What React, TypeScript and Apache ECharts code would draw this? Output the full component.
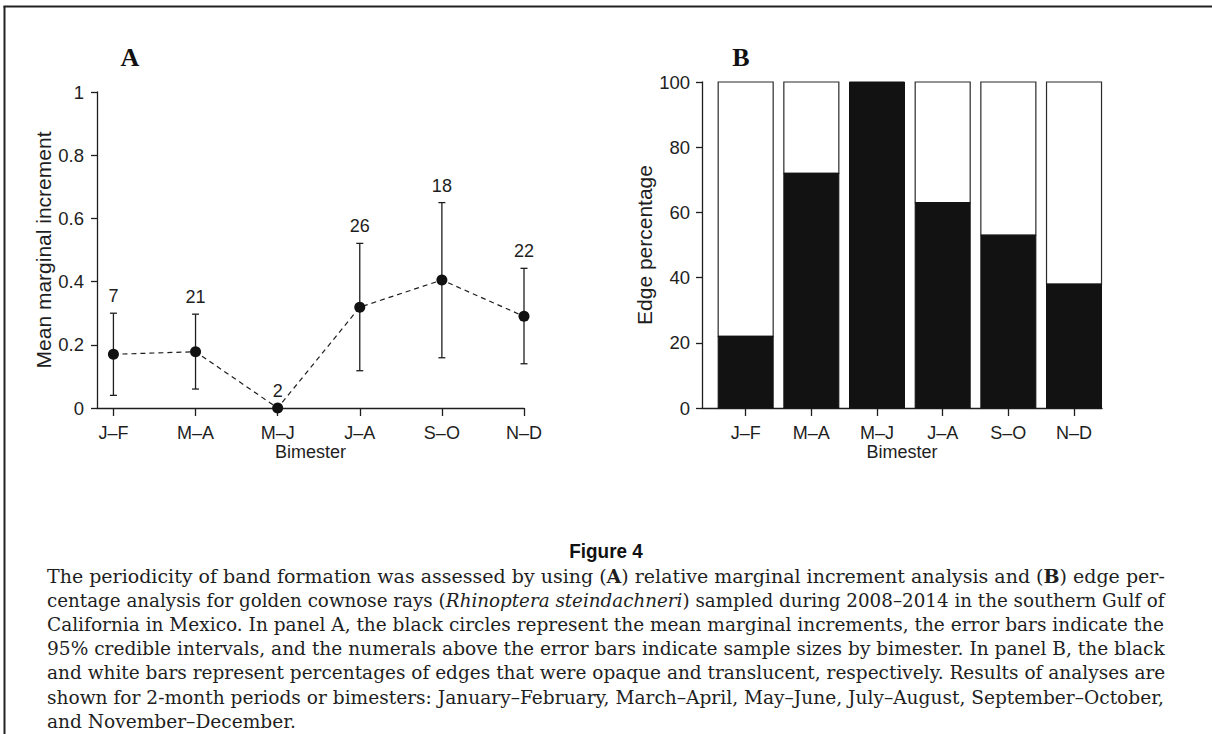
import React, { useEffect, useRef } from "react";
import * as echarts from "echarts";

// Bimester categories (two-month periods)
const bimesters = ["J–F", "M–A", "M–J", "J–A", "S–O", "N–D"];

// Panel A: mean marginal increment with 95% credible intervals and sample sizes
const meanIncrement = [0.17, 0.178, 0.0, 0.319, 0.405, 0.29];
const ciLower = [0.04, 0.06, 0.0, 0.118, 0.159, 0.14];
const ciUpper = [0.3, 0.297, 0.0, 0.521, 0.65, 0.442];
const sampleSizes = [7, 21, 2, 26, 18, 22];

// Panel B: percentage of opaque (black) and translucent (white) edges
const opaqueEdgePct = [22, 72, 100, 63, 53, 38];
const translucentEdgePct = [78, 28, 0, 37, 47, 62];

// Axis ticks
const incrementTicks = [0, 0.2, 0.4, 0.6, 0.8, 1];
const percentTicks = [0, 20, 40, 60, 80, 100];

const figureTitle = "Figure 4";
const captionLines = [
  "The periodicity of band formation was assessed by using ({b|A}) relative marginal increment analysis and ({b|B}) edge per-",
  "centage analysis for golden cownose rays ({i|Rhinoptera steindachneri}) sampled during 2008–2014 in the southern Gulf of",
  "California in Mexico. In panel A, the black circles represent the mean marginal increments, the error bars indicate the",
  "95% credible intervals, and the numerals above the error bars indicate sample sizes by bimester. In panel B, the black",
  "and white bars represent percentages of edges that were opaque and translucent, respectively. Results of analyses are",
  "shown for 2-month periods or bimesters: January–February, March–April, May–June, July–August, September–October,",
  "and November–December.",
];

const SANS = "'Liberation Sans', Arial, Helvetica, sans-serif";
const SERIF = "'DejaVu Serif', 'Liberation Serif', serif";
const INK = "#1e1e1e";

const CAPTION_SIZE = 19;
const CAPTION_LEFT = 47;
const CAPTION_RIGHT = 1165;
const CAPTION_TOP = 576;
const CAPTION_STEP = 24.2;

const BAR_WIDTH = 55;

// Width of a caption line with {b|..} / {i|..} rich segments
function measureRich(line: string): number {
  const ctx = document.createElement("canvas").getContext("2d")!;
  const re = /\{(\w)\|([^}]*)\}/g;
  let total = 0;
  let last = 0;
  let m: RegExpExecArray | null;
  const plain = (s: string) => {
    ctx.font = `${CAPTION_SIZE}px ${SERIF}`;
    total += ctx.measureText(s).width;
  };
  while ((m = re.exec(line))) {
    if (m.index > last) plain(line.slice(last, m.index));
    ctx.font = `${m[1] === "b" ? "bold" : "italic"} ${CAPTION_SIZE}px ${SERIF}`;
    total += ctx.measureText(m[2]).width;
    last = re.lastIndex;
  }
  if (last < line.length) plain(line.slice(last));
  return total;
}

// Justified caption: each full line is fitted to the column width
function buildCaption(): any[] {
  const target = CAPTION_RIGHT - CAPTION_LEFT;
  const scales = captionLines.map((l) => target / measureRich(l));
  const justified = scales.slice(0, -1);
  const avg = justified.reduce((a, b) => a + b, 0) / justified.length;
  return captionLines.map((line, i) => ({
    type: "text",
    x: CAPTION_LEFT,
    y: CAPTION_TOP + i * CAPTION_STEP,
    scaleX: i === captionLines.length - 1 ? avg : scales[i],
    style: {
      text: line,
      fill: INK,
      fontFamily: SERIF,
      fontSize: CAPTION_SIZE,
      textAlign: "left",
      textVerticalAlign: "middle",
      rich: {
        b: { fontFamily: SERIF, fontSize: CAPTION_SIZE, fontWeight: "bold", fill: INK },
        i: { fontFamily: SERIF, fontSize: CAPTION_SIZE, fontStyle: "italic", fill: INK },
      },
    },
  }));
}

const positions = bimesters.map((_, i) => i + 1);
const catLabel = (v: number) => bimesters[Math.round(v) - 1] ?? "";

export default function App() {
  const ref = useRef<HTMLDivElement>(null);

  useEffect(() => {
    if (!ref.current) return;
    const chart = echarts.init(ref.current, null, { renderer: "svg" });

    const axisLine = { show: true, lineStyle: { color: INK, width: 1.3 } };
    const tickLabel = { color: INK, fontFamily: SANS, fontSize: 18 };
    const xName = {
      name: "Bimester",
      nameLocation: "middle",
      nameGap: 32,
      nameTextStyle: { color: INK, fontFamily: SANS, fontSize: 18 },
    };
    const xTicks = {
      axisTick: { show: true, length: 8, customValues: positions, lineStyle: { color: INK, width: 1.3 } },
      axisLabel: { ...tickLabel, margin: 16, customValues: positions, formatter: catLabel },
    };

    const option: any = {
      animation: false,
      backgroundColor: "#ffffff",
      grid: [
        { left: 97, top: 92, width: 427, height: 316, outerBoundsMode: "none" },
        { left: 702, top: 82, width: 400, height: 326, outerBoundsMode: "none" },
      ],
      xAxis: [
        {
          gridIndex: 0,
          type: "value",
          min: 0.8,
          max: 6,
          splitLine: { show: false },
          axisLine,
          ...xTicks,
          ...xName,
        },
        {
          gridIndex: 1,
          type: "value",
          min: 0.335,
          max: 6.426,
          splitLine: { show: false },
          axisLine,
          ...xTicks,
          ...xName,
        },
      ],
      yAxis: [
        {
          gridIndex: 0,
          type: "value",
          min: incrementTicks[0],
          max: incrementTicks[incrementTicks.length - 1],
          interval: incrementTicks[1] - incrementTicks[0],
          splitLine: { show: false },
          axisLine,
          axisTick: { show: true, length: 6, lineStyle: { color: INK, width: 1.3 } },
          axisLabel: { ...tickLabel, fontSize: 18.5, margin: 13 },
          name: "Mean marginal increment",
          nameLocation: "middle",
          nameGap: 43,
          nameTextStyle: { color: INK, fontFamily: SANS, fontSize: 21 },
        },
        {
          gridIndex: 1,
          type: "value",
          min: percentTicks[0],
          max: percentTicks[percentTicks.length - 1],
          interval: percentTicks[1] - percentTicks[0],
          splitLine: { show: false },
          axisLine,
          axisTick: { show: true, length: 6, lineStyle: { color: INK, width: 1.3 } },
          axisLabel: { ...tickLabel, fontSize: 18.5, margin: 12 },
          name: "Edge percentage",
          nameLocation: "middle",
          nameGap: 46,
          nameTextStyle: { color: INK, fontFamily: SANS, fontSize: 21 },
        },
      ],
      series: [
        {
          // credible-interval whiskers with sample-size numerals above them
          type: "custom",
          xAxisIndex: 0,
          yAxisIndex: 0,
          z: 2,
          encode: { x: 0, y: [1, 2] },
          data: bimesters.map((_, i) => [positions[i], ciLower[i], ciUpper[i], sampleSizes[i]]),
          renderItem: (params: any, api: any) => {
            const x = api.value(0);
            const lo = api.coord([x, api.value(1)]);
            const hi = api.coord([x, api.value(2)]);
            const cap = 3.5;
            const ls = { stroke: INK, lineWidth: 1.3 };
            return {
              type: "group",
              children: [
                { type: "line", shape: { x1: lo[0], y1: lo[1], x2: hi[0], y2: hi[1] }, style: ls },
                { type: "line", shape: { x1: hi[0] - cap, y1: hi[1], x2: hi[0] + cap, y2: hi[1] }, style: ls },
                { type: "line", shape: { x1: lo[0] - cap, y1: lo[1], x2: lo[0] + cap, y2: lo[1] }, style: ls },
                {
                  type: "text",
                  x: hi[0],
                  y: hi[1] - 17,
                  style: {
                    text: String(api.value(3)),
                    fill: INK,
                    fontFamily: SANS,
                    fontSize: 18,
                    textAlign: "center",
                    textVerticalAlign: "middle",
                  },
                },
              ],
            };
          },
        },
        {
          type: "line",
          xAxisIndex: 0,
          yAxisIndex: 0,
          z: 3,
          data: meanIncrement.map((v, i) => [positions[i], v]),
          symbol: "circle",
          symbolSize: 11,
          showAllSymbol: true,
          itemStyle: { color: "#111" },
          lineStyle: { color: INK, width: 1.2, type: [5, 4] },
        },
        {
          // stacked opaque (black) / translucent (white) edge bars
          type: "custom",
          xAxisIndex: 1,
          yAxisIndex: 1,
          encode: { x: 0, y: [1, 2] },
          data: bimesters.map((_, i) => [positions[i], opaqueEdgePct[i], opaqueEdgePct[i] + translucentEdgePct[i]]),
          renderItem: (params: any, api: any) => {
            const x = api.value(0);
            const base = api.coord([x, 0]);
            const mid = api.coord([x, api.value(1)]);
            const top = api.coord([x, api.value(2)]);
            const left = base[0] - BAR_WIDTH / 2;
            const children: any[] = [];
            if (top[1] < mid[1] - 0.5) {
              children.push({
                type: "rect",
                shape: { x: left, y: top[1], width: BAR_WIDTH, height: mid[1] - top[1] },
                style: { fill: "#ffffff", stroke: "#2a2a2a", lineWidth: 1.2 },
              });
            }
            children.push({
              type: "rect",
              shape: { x: left, y: mid[1], width: BAR_WIDTH, height: base[1] - mid[1] },
              style: { fill: "#121212", stroke: "#121212", lineWidth: 1 },
            });
            return { type: "group", children };
          },
        },
      ],
      graphic: [
        // page frame (top and left rules)
        { type: "line", shape: { x1: 3.5, y1: 6.5, x2: 1212, y2: 6.5 }, style: { stroke: "#222", lineWidth: 2 } },
        { type: "line", shape: { x1: 4.5, y1: 6, x2: 4.5, y2: 734 }, style: { stroke: "#222", lineWidth: 2 } },
        {
          type: "text",
          x: 130,
          y: 57,
          style: { text: "A", fill: "#111", fontFamily: "'Liberation Serif', serif", fontWeight: "bold", fontSize: 26, textAlign: "center", textVerticalAlign: "middle" },
        },
        {
          type: "text",
          x: 741,
          y: 57,
          style: { text: "B", fill: "#111", fontFamily: "'Liberation Serif', serif", fontWeight: "bold", fontSize: 26, textAlign: "center", textVerticalAlign: "middle" },
        },
        {
          type: "text",
          x: 606,
          y: 551,
          scaleX: 0.9,
          style: { text: figureTitle, fill: "#111", fontFamily: SANS, fontWeight: "bold", fontSize: 21, textAlign: "center", textVerticalAlign: "middle" },
        },
        ...buildCaption(),
      ],
    };

    chart.setOption(option);
    return () => chart.dispose();
  }, []);

  return (
    <div
      ref={ref}
      style={{ position: "absolute", left: 0, top: 0, width: 1212, height: 734, background: "#fff" }}
    />
  );
}
